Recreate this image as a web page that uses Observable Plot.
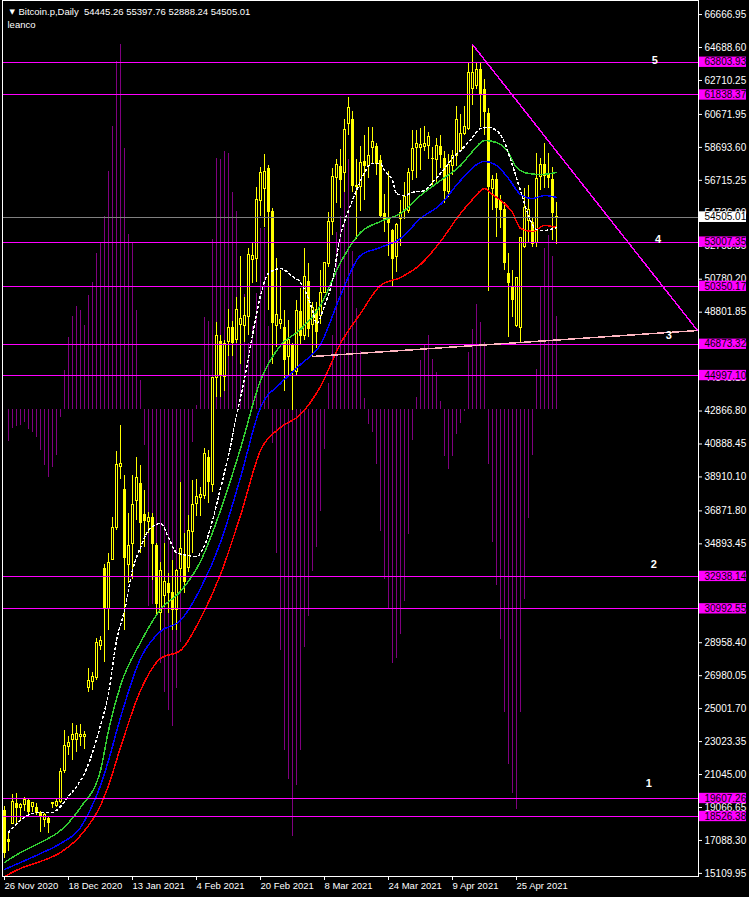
<!DOCTYPE html>
<html><head><meta charset="utf-8">
<script src="https://cdn.jsdelivr.net/npm/d3@7"></script>
<script src="https://cdn.jsdelivr.net/npm/@observablehq/plot@0.6"></script>
<style>html,body{margin:0;padding:0;background:#000;overflow:hidden}</style>
</head><body><div id="chart"></div>
<script>
const symbol = "Bitcoin.p", period = "Daily", account = "leanco";
const dateBars = [0,16,32,48,64,80,96,112,128];
const dateLabels = ["26 Nov 2020","18 Dec 2020","13 Jan 2021","4 Feb 2021","20 Feb 2021","8 Mar 2021","24 Mar 2021","9 Apr 2021","25 Apr 2021"];
const priceTicks = [66666.95,64688.60,62710.25,60671.95,58693.60,56715.25,54736.90,52758.55,50780.20,48801.85,46823.50,44845.15,42866.80,40888.45,38910.10,36871.80,34893.45,32915.10,30936.75,28958.40,26980.05,25001.70,23023.35,21045.00,19066.65,17088.30,15109.95];

const opens = [18887,17146,18106,19307,19007,19187,19487,19067,19067,18767,18346,18406,19247,19127,19367,21228,22669,23089,23089,23269,23269,26270,26571,26811,28732,33414,30953,33954,35875,39477,38156,33594,34855,37436,38517,36656,36235,36475,34795,30713,31793,32514,31973,30893,33354,34254,33414,35575,37256,37616,37796,40077,38456,44820,47041,44880,46981,47881,47101,48061,48001,48482,51963,52023,55445,56225,57426,54845,48001,48121,47881,46140,46801,45180,48842,47341,50643,48061,48962,48542,49982,51663,54244,56826,57546,57126,60127,60367,56405,56345,57846,57546,58627,58747,57906,54725,54364,53704,52143,54424,54845,54845,57246,58627,58627,58687,58747,58026,57966,58747,58026,56045,57546,58206,58506,59467,59827,62228,62408,63369,62168,60728,56225,56766,55505,54965,51123,50342,48001,47881,52684,54304,54184,52924,56886,57666,57126,56766,54445.26];
const highs = [19127,17506,19847,19907,19307,19667,19547,19367,19307,18827,18707,18450,19367,19607,21408,23689,23329,24109,23989,24049,23629,27411,27171,29212,29332,33654,34314,36475,40437,41998,38997,36716,38997,40077,39597,38096,36776,36716,34915,33774,34915,33114,33894,33354,38577,35515,36596,38697,38757,38276,40618,40497,44880,48181,47401,47101,48962,48241,49682,52143,49682,52624,52924,56285,57486,58266,57606,55025,52023,51303,48902,48301,46921,49502,50222,52624,51723,49382,49382,51303,51783,54785,57426,57966,58567,60367,61688,60848,57966,58747,59407,59887,59887,58927,58206,55865,57246,53764,54124,55505,56586,57426,59707,59707,59827,59947,59587,58687,59227,59407,58446,58266,58506,61148,60668,61148,63729,64870,63729,63789,62769,61028,57006,57126,55805,55385,52323,51303,50883,53284,56225,56405,54485,58326,58026,58927,58326,57486,55397.76];
const lows = [16005,16425,18050,17986,18286,18827,18647,18767,18587,17566,17866,17506,19007,19067,19307,21108,22188,21888,22368,22729,22549,25970,26090,26691,28491,27771,29692,33894,35695,38757,29692,32514,32754,36295,34314,34675,35515,32694,30593,29692,31073,30713,29692,29692,31913,31913,33174,34314,36536,36536,37556,37316,37976,43679,43679,44039,46140,46140,46921,45660,46981,47401,50523,50583,54545,53884,48902,45660,46681,47761,44039,45000,42899,45000,46801,47101,47281,46140,46621,48061,49922,51483,53404,55325,55025,55985,59407,55985,53164,54845,55505,56826,57666,57006,54424,53584,52143,50342,51183,52744,54364,54725,56706,56826,57306,58446,57966,56345,56465,57426,55325,55685,57006,57546,58446,59407,59707,61208,62168,59887,59407,50042,54905,53284,53824,51303,47281,48481,47881,47000,52624,52924,52684,52684,56105,56225,56225,53104,52888.24];
const closes = [16305,16966,19367,19007,19187,19487,18767,19307,18707,18466,18587,18106,19307,19367,21168,22729,22909,23389,23449,23389,23389,26631,26871,28912,29032,31013,33714,35875,39597,39657,34014,34735,37196,38817,36115,36235,36475,34855,31253,33234,32574,31913,30893,33234,34555,32574,35635,37196,37676,37856,40317,38577,44820,47341,45000,46861,47881,46921,48902,48421,48542,52263,52203,55505,57126,57186,54785,48121,48602,48361,45900,47101,45240,48842,47341,50883,47761,49022,47581,49982,51783,54244,56886,57606,56706,59707,61028,56345,56285,57786,57546,58206,58987,57666,54545,54304,54124,51963,54064,54725,55745,57126,58567,58867,58807,58867,59287,57966,58747,58206,56045,57606,58206,60367,59467,59947,63129,63129,63309,61868,60788,56285,56706,55025,54905,51723,50523,49502,50823,53224,55025,54905,52864,56766,57606,56946,56826,54725,54505.01];

// oscillator histogram (offset from its zero line, price units)
const histZero = 42940;
const hist = [0,-1884,-1122,-1002,-942,-744,-1182,-1344,-1662,-2442,-3342,-4044,-3444,-2742,-480,2382,4338,5616,6198,5958,5058,6858,7638,9402,9978,11598,14298,16998,20898,21948,15708,10530,9978,5958,1758,-2142,-11802,-11682,-10878,-15222,-16962,-18042,-19032,-16704,-13962,-10062,-7002,-1962,276,2382,5538,5298,10218,15078,15018,15498,15378,13056,11922,9198,6918,3996,5000,6978,10878,10878,5000,-2000,-8622,-14442,-20424,-22182,-25602,-22524,-20424,-14262,-12432,-9684,-8292,-6126,-2406,1578,4482,10638,11598,13056,15018,9498,6102,3510,702,-852,-1338,-3282,-7302,-10182,-12012,-15222,-14922,-13470,-11502,-7482,-1824,762,2958,3858,4482,3030,2238,498,-2802,-3582,-2802,-1482,-792,-100,3438,4818,6318,5238,4062,-3282,-7962,-10542,-13782,-18162,-21282,-23010,-23982,-18162,-11364,-6522,-2730,2448,7398,9678,10470,9198,5616];

// moving averages, read at sample bars
const maWhiteBars = [1,4,7,9,12,14,16,18,20,22,24,26,28,30,32,34,36,39,41,43,46,48,50,52,54,56,58,60,62,64,66,69,72,74,77,78,80,82,84,86,88,90,92,94,95,97,98,100,102,105,107,109,112,115,117,119,121,123,125,127,129,131,133,135,138];
const maWhite = [17566,18286,18706,18766,18766,19127,19727,20327,21107,22368,23989,25910,29092,30893,33294,34675,35695,36115,35275,34374,34194,34134,34795,36295,38216,40197,42598,44820,47401,49802,51123,51423,50943,50583,48902,48122,49202,50703,53404,54905,56105,57186,57726,57726,57306,56706,55925,55805,55985,56105,56585,57126,58026,58747,59287,59827,59887,59707,58987,57606,56105,54605,53764,53704,53884];
const maGreenBars = [0,4,9,14,19,24,26,29,34,39,44,49,54,59,64,69,74,79,84,89,94,99,104,109,114,117,120,123,126,128,131,134,138];
const maGreen = [15765,16365,16966,17686,19067,21288,23689,26390,28972,30953,32033,33834,36896,40618,44700,46801,47761,49202,51783,53584,54244,54725,55805,56706,57606,58446,59107,58987,58386,57486,57126,57066,57186];
const maBlueBars = [0,4,9,14,19,21,24,26,29,34,39,44,49,54,59,64,69,74,79,84,89,94,99,104,109,114,120,123,126,129,132,135,138];
const maBlue = [15345,15765,16305,16906,17866,18707,20387,21888,24469,28011,29632,30292,32213,34975,38877,43079,44520,45660,46861,49802,52203,52684,53224,54424,55265,56706,57846,57606,56826,55865,55625,55805,55685];
const maRedBars = [0,4,9,14,19,24,26,29,34,39,44,49,54,59,64,69,74,79,84,89,94,99,104,109,114,117,120,122,125,127,129,132,135,138];
const maRed = [14925,15405,15825,16365,17386,19187,20387,22669,26090,28011,28491,30412,33054,36596,40497,41878,42659,44340,46920,48722,50402,50883,51663,53044,54725,55565,56225,55865,55325,54785,53824,53644,54004,53884];

// horizontal levels and drawn objects
const levels = [63803.93,61838.37,53007.35,50350.17,46873.32,44997.10,32938.14,30992.55,19607.26,18526.38];
const lastPrice = 54505.01;
const supportBars = [77, 173.25], supportPrices = [46140, 47700];
const resistBars = [117, 173.25], resistPrices = [64870, 47700];
const waveText = ["5","4","3","2","1"];
const waveBars = [162.6,163.4,166.1,162.3,161.1];
const wavePrices = [63891,53164,47401,33654,20508];

const candles = opens.map((o, i) => {
  const lo = Math.min(o, closes[i]), hi = Math.max(o, closes[i]);
  const pad = Math.max(0, (60 - (hi - lo)) / 2);
  return {i, o, h: highs[i], l: lows[i], c: closes[i], b1: lo - pad, b2: hi + pad};
});
const histData = hist.map((v, i) => ({i, v}));
const pts = (bars, vals) => bars.map((b, k) => ({i: b, v: vals[k]}));
const waves = waveText.map((t, k) => ({t, i: waveBars[k], v: wavePrices[k]}));
const n = closes.length - 1;
const header = `${symbol},${period}\u00a0\u00a0${opens[n].toFixed(2)} ${highs[n].toFixed(2)} ${lows[n].toFixed(2)} ${closes[n].toFixed(2)}`;
const YEL = "#ffff00", MAG = "#ff00ff";
const crisp = {shapeRendering: "crispEdges"};

const chart = Plot.plot({
  width: 749, height: 897,
  marginLeft: 2, marginRight: 51, marginTop: 0, marginBottom: 21,
  style: {background: "#000", color: "#fff", fontFamily: "'Liberation Sans', Arial, sans-serif", fontSize: "10px"},
  x: {domain: [-0.5, 173.5], axis: null},
  y: {domain: [14924.6, 67510.9], axis: null},
  marks: [
    Plot.ruleX(histData, {x: "i", y1: () => histZero, y2: d => histZero + d.v, stroke: "#800080", ...crisp}),
    Plot.ruleX(candles, {x: "i", y1: "l", y2: "h", stroke: YEL, ...crisp}),
    Plot.rect(candles.filter(d => d.c < d.o), {x1: d => d.i - 0.375, x2: d => d.i + 0.375, y1: "b1", y2: "b2", fill: YEL, ...crisp}),
    Plot.rect(candles.filter(d => d.c >= d.o), {x1: d => d.i - 0.25, x2: d => d.i + 0.25, y1: "b1", y2: "b2", fill: "#000", stroke: YEL, ...crisp}),
    Plot.line(pts(maRedBars, maRed), {x: "i", y: "v", stroke: "#ff0000", curve: "monotone-x", ...crisp}),
    Plot.line(pts(maBlueBars, maBlue), {x: "i", y: "v", stroke: "#0000ff", curve: "monotone-x", ...crisp}),
    Plot.line(pts(maGreenBars, maGreen), {x: "i", y: "v", stroke: "#32cd32", curve: "monotone-x", ...crisp}),
    Plot.line(pts(maWhiteBars, maWhite), {x: "i", y: "v", stroke: "#ffffff", strokeDasharray: "2,3", curve: "monotone-x", ...crisp}),
    Plot.ruleY(levels, {stroke: MAG, ...crisp}),
    Plot.ruleY([lastPrice], {stroke: "#808080", ...crisp}),
    Plot.line(pts(supportBars, supportPrices), {x: "i", y: "v", stroke: "#ffb6c1", ...crisp}),
    Plot.line(pts(resistBars, resistPrices), {x: "i", y: "v", stroke: MAG, ...crisp}),
    Plot.frame({stroke: "#fff", ...crisp}),
    Plot.axisY({ticks: priceTicks, anchor: "right", label: null, tickSize: 3, tickPadding: 3, tickFormat: d => d.toFixed(2), color: "#fff", fontSize: 10}),
    Plot.axisX({ticks: dateBars, anchor: "bottom", label: null, tickSize: 4, tickPadding: 2, textAnchor: "start", tickFormat: i => dateLabels[dateBars.indexOf(i)], color: "#fff", fontSize: 9.5}),
    Plot.rect(levels, {x1: () => 173.75, x2: () => 185.5, y1: d => d - 310, y2: d => d + 310, fill: MAG}),
    Plot.text(levels, {x: () => 175, y: d => d, text: d => d.toFixed(2), textAnchor: "start", fill: "#000", fontSize: 10}),
    Plot.rect([lastPrice], {x1: () => 173.75, x2: () => 185.5, y1: d => d - 320, y2: d => d + 320, fill: "#fff"}),
    Plot.text([lastPrice], {x: () => 175, y: d => d, text: d => d.toFixed(2), textAnchor: "start", fill: "#000", fontSize: 10}),
    Plot.text(waves, {x: "i", y: "v", text: "t", fill: "#fff", fontWeight: "bold", fontSize: 11}),
    Plot.text(["\u25BC"], {frameAnchor: "top-left", text: d => d, dx: 7, dy: 11, lineAnchor: "middle", fill: "#fff", fontSize: 7, fontFamily: "DejaVu Sans"}),
    Plot.text([header], {frameAnchor: "top-left", text: d => d, dx: 16, dy: 11, lineAnchor: "middle", textAnchor: "start", fill: "#fff", fontSize: 9.5}),
    Plot.text([account], {frameAnchor: "top-left", text: d => d, dx: 5, dy: 24, lineAnchor: "middle", textAnchor: "start", fill: "#fff", fontSize: 9.5})
  ]
});
document.getElementById("chart").appendChild(chart);
</script>
</body></html>
